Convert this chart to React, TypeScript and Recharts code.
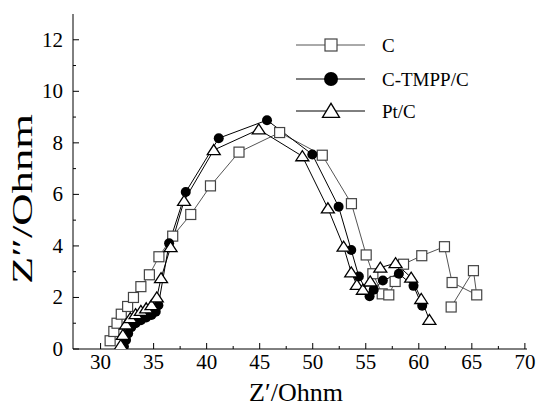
import React from 'react';
import { LineChart, Line, XAxis, YAxis } from 'recharts';

// Nyquist data (Z' / Z'' in Ohm)
const cRe = [30.9, 31.25, 31.55, 31.95, 32.55, 33.1, 33.8, 34.6, 35.5, 36.8, 38.5, 40.36, 43.05, 46.88, 50.9, 53.65, 55.04, 55.67, 56.55, 57.17, 57.77, 58.56, 60.28, 62.42, 63.14, 65.46, 65.15, 63.05];
const cIm = [0.32, 0.68, 1.0, 1.35, 1.65, 2.0, 2.42, 2.88, 3.58, 4.38, 5.22, 6.33, 7.64, 8.4, 7.52, 5.64, 3.65, 2.92, 2.14, 2.1, 2.62, 3.29, 3.62, 3.97, 2.58, 2.1, 3.04, 1.63];

const tmppRe = [32.2, 32.4, 32.6, 32.9, 33.3, 33.8, 34.3, 34.8, 35.2, 35.45, 36.46, 38.03, 41.14, 45.69, 49.96, 52.44, 53.63, 54.35, 55.36, 55.75, 56.61, 58.12, 59.5, 60.32];
const tmppIm = [0.1, 0.35, 0.6, 0.85, 1.0, 1.12, 1.22, 1.32, 1.45, 1.7, 4.1, 6.09, 8.18, 8.88, 7.55, 5.52, 3.84, 2.81, 2.05, 2.3, 2.66, 2.92, 2.45, 1.68];

const ptRe = [31.9, 32.1, 32.4, 32.8, 33.3, 33.8, 34.3, 34.8, 35.3, 35.7, 36.6, 37.87, 40.67, 44.91, 49.02, 51.43, 52.91, 53.63, 54.16, 54.73, 55.42, 56.37, 57.81, 59.28, 60.23, 61.0];
const ptIm = [0.15, 0.55, 0.95, 1.2, 1.35, 1.48, 1.58, 1.7, 2.0, 2.75, 3.95, 5.75, 7.72, 8.52, 7.48, 5.46, 3.97, 2.97, 2.49, 2.3, 2.62, 3.16, 3.33, 2.77, 1.94, 1.13];

const xTicks = [30, 32.5, 35, 37.5, 40, 42.5, 45, 47.5, 50, 52.5, 55, 57.5, 60, 62.5, 65, 67.5, 70];
const yTicks = [0, 1, 2, 3, 4, 5, 6, 7, 8, 9, 10, 11, 12];

const seriesNames = ['C', 'C-TMPP/C', 'Pt/C'];

const zip = (xs: number[], ys: number[]) => xs.map((x, i) => ({ x, y: ys[i] }));
const cData = zip(cRe, cIm);
const tmppData = zip(tmppRe, tmppIm);
const ptData = zip(ptRe, ptIm);

const FONT = '"Liberation Serif", "Times New Roman", serif';

const Square = ({ cx, cy, s = 10 }: any) => (
  <rect x={cx - s / 2} y={cy - s / 2} width={s} height={s} fill="#fff" stroke="#444" strokeWidth={1.2} />
);
const Dot = ({ cx, cy, r = 5 }: any) => <circle cx={cx} cy={cy} r={r} fill="#000" />;
const Tri = ({ cx, cy, w = 13, h = 10 }: any) => (
  <polygon
    points={`${cx - w / 2},${cy + h * 0.45} ${cx + w / 2},${cy + h * 0.45} ${cx},${cy - h * 0.55}`}
    fill="#fff"
    stroke="#000"
    strokeWidth={1.3}
  />
);

const XTick = ({ x, y, payload }: any) => {
  const major = payload.value % 5 === 0;
  return (
    <g>
      <line x1={x} y1={y} x2={x} y2={y - (major ? 6 : 3)} stroke="#000" />
      {major && (
        <text x={x} y={y + 20} textAnchor="middle" fontSize={21} fontFamily={FONT} fill="#000">
          {payload.value}
        </text>
      )}
    </g>
  );
};

const YTick = ({ x, y, payload }: any) => {
  const major = payload.value % 2 === 0;
  return (
    <g>
      <line x1={x} y1={y} x2={x + (major ? 6 : 3)} y2={y} stroke="#000" />
      {major && (
        <text x={x - 10} y={y + 7} textAnchor="end" fontSize={21} fontFamily={FONT} fill="#000">
          {payload.value}
        </text>
      )}
    </g>
  );
};

const RightTick = ({ x, y, payload }: any) => {
  const major = payload.value % 2 === 0;
  return <line x1={x} y1={y} x2={x - (major ? 6 : 3)} y2={y} stroke="#000" />;
};

const legendRows = [45, 79, 111];

const App: React.FC = () => {
  return (
    <div style={{ position: 'absolute', left: 0, top: 0, width: 539, height: 407, background: '#fff' }}>
      <LineChart width={539} height={407} margin={{ top: 14, right: 12, bottom: 0, left: 0 }}>
        <XAxis
          type="number"
          dataKey="x"
          domain={[27.4, 70.2]}
          allowDataOverflow
          ticks={xTicks}
          interval={0}
          tickSize={0}
          tickMargin={0}
          tickLine={false}
          tick={<XTick />}
          height={58}
          axisLine={{ stroke: '#000' }}
          label={{
            content: () => (
              <text x={296} y={401} textAnchor="middle" fontSize={26} fontFamily={FONT} fill="#000">
                Z′/Ohnm
              </text>
            ),
          }}
        />
        <XAxis
          xAxisId="top"
          orientation="top"
          type="number"
          domain={[27.4, 70.2]}
          allowDataOverflow
          height={0}
          tick={false}
          tickLine={false}
          axisLine={{ stroke: '#000' }}
        />
        <YAxis
          type="number"
          dataKey="y"
          domain={[0, 13]}
          allowDataOverflow
          ticks={yTicks}
          interval={0}
          tickSize={0}
          tickMargin={0}
          tickLine={false}
          tick={<YTick />}
          width={73}
          axisLine={{ stroke: '#000' }}
          label={{
            content: () => (
              <text
                x={0}
                y={0}
                transform="translate(32,199) rotate(-90)"
                textAnchor="middle"
                fontSize={29}
                textLength={170}
                lengthAdjust="spacingAndGlyphs"
                fontFamily={FONT}
                fill="#000"
              >
                Z″/Ohnm
              </text>
            ),
          }}
        />
        <YAxis
          yAxisId="right"
          orientation="right"
          type="number"
          domain={[0, 13]}
          allowDataOverflow
          ticks={yTicks}
          interval={0}
          tickSize={0}
          tickMargin={0}
          tickLine={false}
          tick={<RightTick />}
          width={0}
          axisLine={{ stroke: '#000' }}
        />
        <Line
          data={cData}
          dataKey="y"
          name={seriesNames[0]}
          stroke="#555"
          strokeWidth={1}
          dot={(p: any) => <Square key={`c${p.index}`} cx={p.cx} cy={p.cy} />}
          activeDot={false}
          isAnimationActive={false}
        />
        <Line
          data={tmppData}
          dataKey="y"
          name={seriesNames[1]}
          stroke="#000"
          strokeWidth={1}
          dot={(p: any) => <Dot key={`t${p.index}`} cx={p.cx} cy={p.cy} />}
          activeDot={false}
          isAnimationActive={false}
        />
        <Line
          data={ptData}
          dataKey="y"
          name={seriesNames[2]}
          stroke="#000"
          strokeWidth={1}
          dot={(p: any) => <Tri key={`p${p.index}`} cx={p.cx} cy={p.cy} />}
          activeDot={false}
          isAnimationActive={false}
        />
      </LineChart>
      <svg width={539} height={407} style={{ position: 'absolute', left: 0, top: 0, pointerEvents: 'none' }}>
        {seriesNames.map((name, i) => {
          const y = legendRows[i];
          return (
            <g key={name}>
              <line x1={296} y1={y} x2={365} y2={y} stroke={i === 0 ? '#555' : '#000'} />
              {i === 0 && <Square cx={331} cy={y} s={12} />}
              {i === 1 && <Dot cx={331} cy={y} r={7} />}
              {i === 2 && <Tri cx={331} cy={y} w={17} h={14} />}
              <text x={382} y={y + 6.5} fontSize={19} fontFamily={FONT} fill="#000">
                {name}
              </text>
            </g>
          );
        })}
      </svg>
    </div>
  );
};

export default App;
